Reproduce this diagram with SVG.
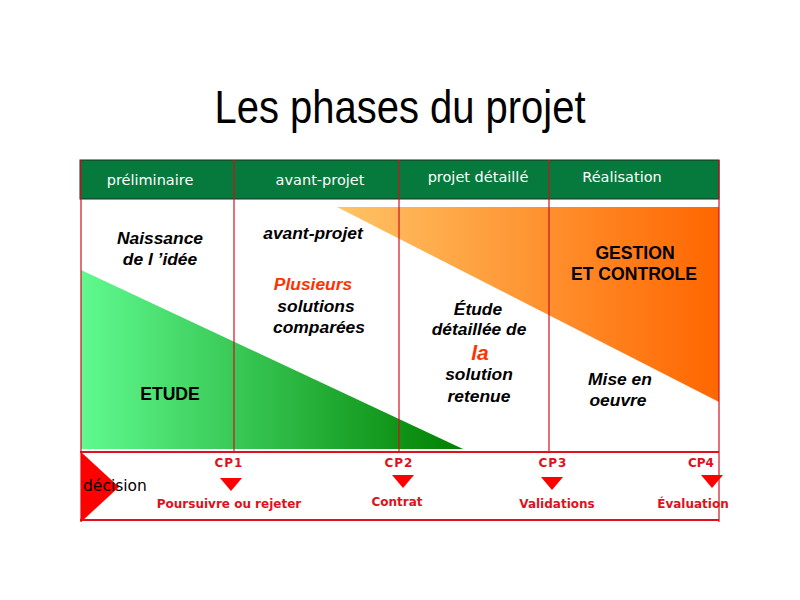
<svg xmlns="http://www.w3.org/2000/svg" width="800" height="600" viewBox="0 0 800 600">
<style>
.hd{font-family:"DejaVu Sans",sans-serif;font-size:14.5px;fill:#fff;text-anchor:middle}
.bi{font-family:"Liberation Sans",Arial,sans-serif;font-size:17.4px;font-weight:bold;font-style:italic;fill:#000;text-anchor:middle}
.b{font-family:"Liberation Sans",Arial,sans-serif;font-size:17.6px;font-weight:bold;fill:#000;text-anchor:middle}
.cp{font-family:"DejaVu Sans",sans-serif;font-size:12px;font-weight:bold;fill:#e0101e;text-anchor:middle}
.red{fill:#ff3300}
.vl{stroke:#d01020;stroke-width:1.2}
</style>
<defs>
<linearGradient id="gg" x1="0" x2="1" y1="0" y2="0"><stop offset="0" stop-color="#60fa90"/><stop offset="1" stop-color="#008000"/></linearGradient>
<linearGradient id="og" x1="0" x2="1" y1="0" y2="0"><stop offset="0" stop-color="#ffc466"/><stop offset="1" stop-color="#ff6600"/></linearGradient>
</defs>
<rect width="800" height="600" fill="#fff"/>
<text x="400" y="123" text-anchor="middle" font-family="Liberation Sans Narrow,Liberation Sans,Arial,sans-serif" font-size="46" fill="#000" textLength="371" lengthAdjust="spacingAndGlyphs">Les phases du projet</text>
<g id="header">
<rect x="80" y="160" width="639" height="39" fill="#057a3c" stroke="#1a3320" stroke-width="1"/>
<text class="hd" x="150" y="185">préliminaire</text>
<text class="hd" x="320" y="185">avant-projet</text>
<text class="hd" x="478" y="182">projet détaillé</text>
<text class="hd" x="622" y="182">Réalisation</text>
</g>
<g id="etude-shape"><polygon points="81,270 81,449 463,449" fill="url(#gg)"/></g>
<g id="gestion-shape"><polygon points="337,207 719,207 719,402" fill="url(#og)"/></g>
<g id="connectors">
<line class="vl" x1="81" y1="160" x2="81" y2="522"/>
<line class="vl" x1="234" y1="160" x2="234" y2="452"/>
<line class="vl" x1="399" y1="160" x2="399" y2="452"/>
<line class="vl" x1="549" y1="160" x2="549" y2="452"/>
<line class="vl" x1="719" y1="160" x2="719" y2="522"/>
<line x1="80" y1="452" x2="719" y2="452" stroke="#e0101e" stroke-width="2"/>
<line x1="80" y1="520" x2="719" y2="520" stroke="#e0101e" stroke-width="2"/>
</g>
<g id="preliminaire">
<text class="bi" x="160" y="244">Naissance</text>
<text class="bi" x="160" y="265">de l ’idée</text>
<text class="b" x="170" y="400">ETUDE</text>
</g>
<g id="avant-projet">
<text class="bi" x="313" y="239">avant-projet</text>
<text class="bi red" x="313" y="290">Plusieurs</text>
<text class="bi" x="316" y="312">solutions</text>
<text class="bi" x="319" y="333">comparées</text>
</g>
<g id="projet-detaille">
<text class="bi" x="478" y="315">Étude</text>
<text class="bi" x="479" y="335">détaillée de</text>
<text class="bi red" x="480" y="360" style="font-size:21px">la</text>
<text class="bi" x="479" y="380">solution</text>
<text class="bi" x="479" y="402">retenue</text>
</g>
<g id="realisation">
<text class="b" x="635" y="259">GESTION</text>
<text class="b" x="634" y="280">ET CONTROLE</text>
<text class="bi" x="620" y="385">Mise en</text>
<text class="bi" x="618" y="406">oeuvre</text>
</g>
<g id="decision">
<polygon points="81,452 81,522 119,487" fill="#ff0000"/>
<text x="83" y="491" font-family="DejaVu Sans,sans-serif" font-size="15.5" fill="#000">décision</text>
</g>
<g id="cp1">
<text class="cp" x="229" y="467" letter-spacing="1">CP1</text>
<polygon points="220,478 242,478 231,491" fill="#ff0000"/>
<text class="cp" x="229" y="508">Poursuivre ou rejeter</text>
</g>
<g id="cp2">
<text class="cp" x="399" y="467" letter-spacing="1">CP2</text>
<polygon points="392,475 414,475 403,488" fill="#ff0000"/>
<text class="cp" x="397" y="506">Contrat</text>
</g>
<g id="cp3">
<text class="cp" x="553" y="467" letter-spacing="1">CP3</text>
<polygon points="541,477 563,477 552,490" fill="#ff0000"/>
<text class="cp" x="557" y="508">Validations</text>
</g>
<g id="cp4">
<text class="cp" x="701" y="467">CP4</text>
<polygon points="701,475 723,475 712,488" fill="#ff0000"/>
<text class="cp" x="693" y="508">Évaluation</text>
</g>
</svg>
